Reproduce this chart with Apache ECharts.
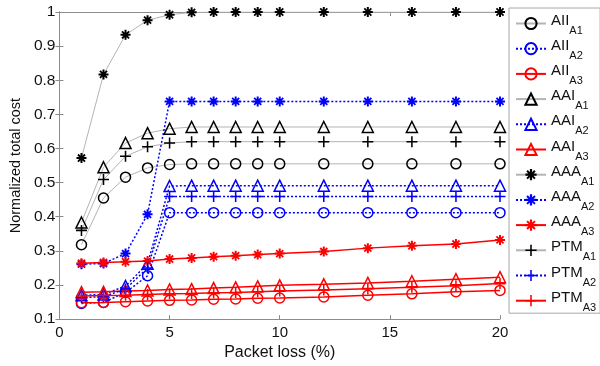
<!DOCTYPE html>
<html>
<head>
<meta charset="utf-8">
<script src="https://cdn.jsdelivr.net/npm/echarts@6/dist/echarts.min.js"></script>
<style>
html, body { margin: 0; padding: 0; background: #fff; }
#main { width: 600px; height: 366px; }
</style>
</head>
<body>
<div id="main"></div>
<script>
var packetLoss = [1, 2, 3, 4, 5, 6, 7, 8, 9, 10, 12, 14, 16, 18, 20];

// A1 (black markers, grey line)
var aiiA1 = [0.318, 0.455, 0.516, 0.543, 0.553, 0.555, 0.555, 0.555, 0.555, 0.555, 0.555, 0.555, 0.555, 0.555, 0.555];
var aaiA1 = [0.383, 0.545, 0.616, 0.645, 0.658, 0.663, 0.663, 0.663, 0.663, 0.663, 0.663, 0.663, 0.663, 0.663, 0.663];
var aaaA1 = [0.572, 0.817, 0.933, 0.976, 0.992, 0.999, 1, 1, 1, 1, 1, 1, 1, 1, 1];
var ptmA1 = [0.36, 0.509, 0.577, 0.605, 0.616, 0.62, 0.62, 0.62, 0.62, 0.62, 0.62, 0.62, 0.62, 0.62, 0.62];

// A2 (blue, dotted)
var aiiA2 = [0.146, 0.149, 0.178, 0.227, 0.412, 0.412, 0.412, 0.412, 0.412, 0.412, 0.412, 0.412, 0.412, 0.412, 0.412];
var aaiA2 = [0.17, 0.172, 0.197, 0.262, 0.49, 0.491, 0.491, 0.491, 0.491, 0.491, 0.491, 0.491, 0.491, 0.491, 0.491];
var aaaA2 = [0.261, 0.263, 0.292, 0.407, 0.738, 0.738, 0.738, 0.738, 0.738, 0.738, 0.738, 0.738, 0.738, 0.738, 0.738];
var ptmA2 = [0.163, 0.166, 0.188, 0.25, 0.459, 0.459, 0.459, 0.459, 0.459, 0.459, 0.459, 0.459, 0.459, 0.459, 0.459];

// A3 (red, solid)
var aiiA3 = [0.148, 0.149, 0.151, 0.153, 0.155, 0.156, 0.158, 0.159, 0.161, 0.162, 0.165, 0.17, 0.174, 0.18, 0.184];
var aaiA3 = [0.179, 0.18, 0.182, 0.184, 0.187, 0.188, 0.191, 0.193, 0.196, 0.199, 0.202, 0.206, 0.211, 0.217, 0.223];
var aaaA3 = [0.264, 0.266, 0.268, 0.27, 0.276, 0.279, 0.283, 0.286, 0.289, 0.292, 0.298, 0.308, 0.315, 0.32, 0.332];
var ptmA3 = [0.168, 0.169, 0.17, 0.172, 0.174, 0.175, 0.177, 0.178, 0.18, 0.182, 0.185, 0.189, 0.193, 0.198, 0.204];

var seriesNames = ['AII_A1', 'AII_A2', 'AII_A3', 'AAI_A1', 'AAI_A2', 'AAI_A3',
    'AAA_A1', 'AAA_A2', 'AAA_A3', 'PTM_A1', 'PTM_A2', 'PTM_A3'];
var seriesData = [aiiA1, aiiA2, aiiA3, aaiA1, aaiA2, aaiA3,
    aaaA1, aaaA2, aaaA3, ptmA1, ptmA2, ptmA3];

var FONT = 'Liberation Sans';

var starPath = 'path://M0,8L20,8L20,12L0,12Z M8,0L12,0L12,20L8,20Z ' +
    'M1.66,4.2L4.2,1.66L18.34,15.8L15.8,18.34Z M4.2,18.34L1.66,15.8L15.8,1.66L18.34,4.2Z';
var plusPath = 'path://M8.6,0L11.4,0L11.4,20L8.6,20Z M0,8.6L20,8.6L20,11.4L0,11.4Z';

var groupStyle = {
    A1: { marker: '#000000', line: '#b4b4b4', width: 1, type: 'solid' },
    A2: { marker: '#0000ff', line: '#0000ff', width: 1.5, type: [2, 2] },
    A3: { marker: '#ff0000', line: '#ff0000', width: 1.5, type: 'solid' }
};

function makeSeries(name, data) {
    var kind = name.split('_')[0];
    var g = groupStyle[name.split('_')[1]];
    var symbol, size, itemStyle;
    if (kind == 'AII' || kind == 'AAI') {
        symbol = kind == 'AII' ? 'circle' : 'triangle';
        size = kind == 'AII' ? 10 : 11;
        itemStyle = { color: 'rgba(0,0,0,0)', borderColor: g.marker, borderWidth: 1.5 };
    } else {
        symbol = kind == 'AAA' ? starPath : plusPath;
        size = kind == 'AAA' ? 10 : 11;
        itemStyle = { color: g.marker, borderWidth: 0 };
    }
    return {
        name: name,
        type: 'line',
        data: packetLoss.map(function (x, i) { return [x, data[i]]; }),
        symbol: symbol,
        symbolSize: size,
        showAllSymbol: true,
        itemStyle: itemStyle,
        lineStyle: { color: g.line, width: g.width, type: g.type },
        emphasis: { disabled: true },
        z: 2
    };
}

var series = seriesNames.map(function (n, i) { return makeSeries(n, seriesData[i]); });

var mychart = echarts.init(document.getElementById('main'));
var option = {
    animation: false,
    textStyle: { fontFamily: FONT },
    grid: { left: 53, right: 100, top: 12, bottom: 44 },
    legend: {
        orient: 'vertical',
        left: 509,
        top: 8,
        data: seriesNames,
        itemWidth: 30,
        itemHeight: 14,
        itemGap: 0.2,
        padding: [3, 4, 0, 6],
        borderColor: '#a8a8a8',
        borderWidth: 1,
        formatter: function (name) {
            var p = name.split('_');
            return '{n|' + p[0] + '}{s|' + p[1] + '}';
        },
        textStyle: {
            color: '#111',
            fontFamily: FONT,
            rich: {
                n: { fontSize: 15, lineHeight: 16, padding: [0, 0, 6, 0], fontFamily: FONT, color: '#111' },
                s: { fontSize: 11, lineHeight: 12, padding: [14, 0, 0, 0], fontFamily: FONT, color: '#111' }
            }
        }
    },
    xAxis: [{
        type: 'value',
        min: 0, max: 20, interval: 5,
        name: 'Packet loss (%)',
        nameLocation: 'middle',
        nameGap: 22,
        nameTextStyle: { fontSize: 16, color: '#111', fontFamily: FONT },
        axisLine: { lineStyle: { color: '#8c8c8c' } },
        axisTick: { inside: true, length: 4, lineStyle: { color: '#8c8c8c' } },
        axisLabel: { fontSize: 15, color: '#111', margin: 6 },
        splitLine: { show: false }
    }, {
        type: 'value',
        position: 'top',
        min: 0, max: 20, interval: 5,
        axisLine: { show: true, lineStyle: { color: '#8c8c8c' } },
        axisTick: { inside: true, length: 4, lineStyle: { color: '#8c8c8c' } },
        axisLabel: { show: false },
        splitLine: { show: false }
    }],
    yAxis: [{
        type: 'value',
        min: 0.1, max: 1, interval: 0.1,
        name: 'Normalized total cost',
        nameLocation: 'middle',
        nameGap: 32,
        nameRotate: 90,
        nameTextStyle: { fontSize: 14.5, color: '#111', fontFamily: FONT },
        axisLine: { show: true, lineStyle: { color: '#8c8c8c' } },
        axisTick: { inside: true, length: 4, lineStyle: { color: '#8c8c8c' } },
        axisLabel: {
            fontSize: 15.5, color: '#111', margin: 4,
            formatter: function (v) { return String(+v.toFixed(1)); }
        },
        splitLine: { show: false }
    }, {
        type: 'value',
        position: 'right',
        min: 0.1, max: 1, interval: 0.1,
        axisLine: { show: true, lineStyle: { color: '#8c8c8c' } },
        axisTick: { inside: true, length: 4, lineStyle: { color: '#8c8c8c' } },
        axisLabel: { show: false },
        splitLine: { show: false }
    }],
    series: series
};
mychart.setOption(option);
</script>
</body>
</html>
